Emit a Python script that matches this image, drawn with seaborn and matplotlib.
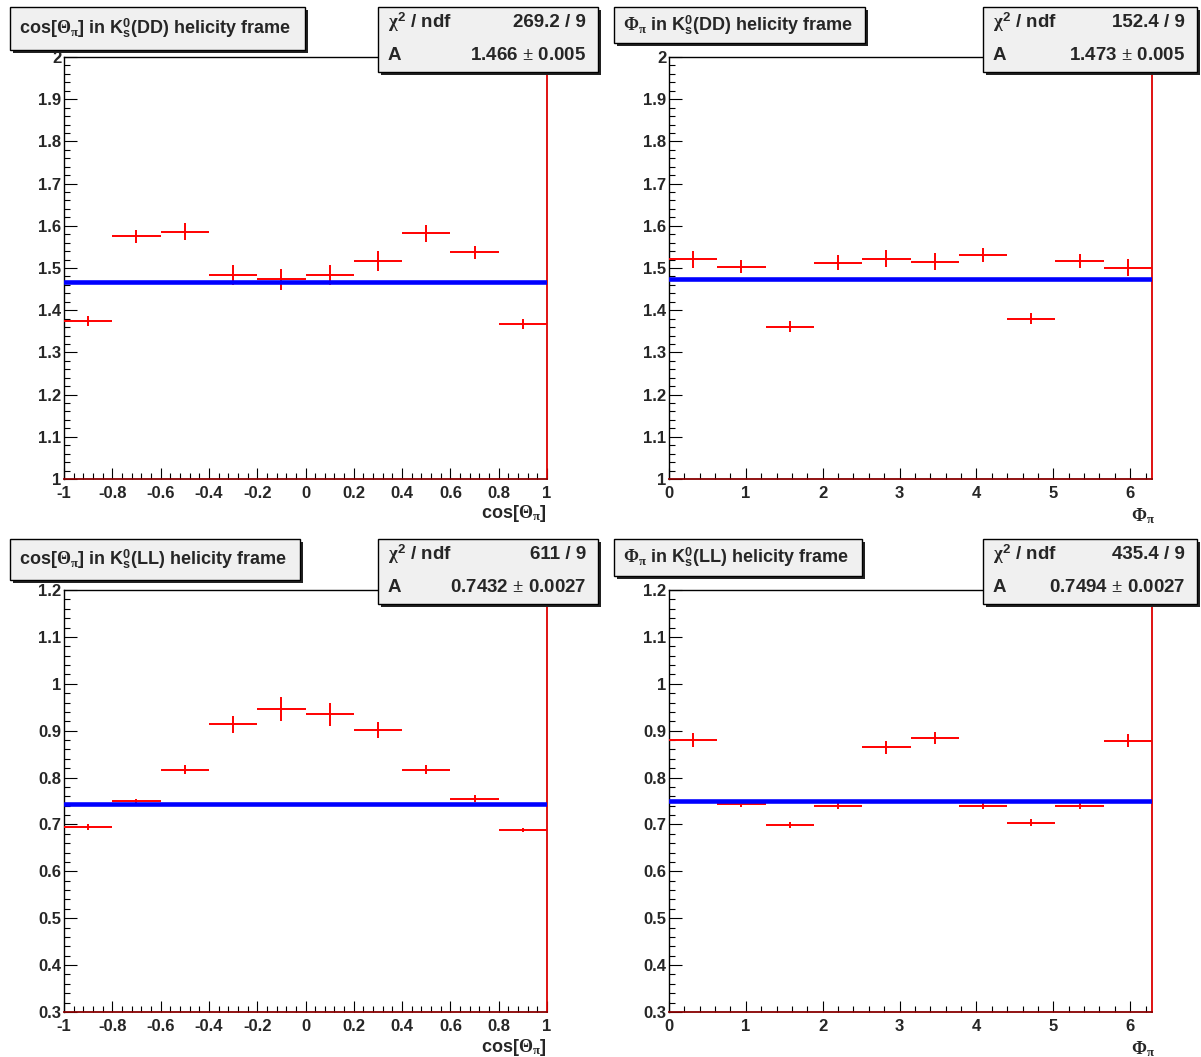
import numpy as np
import matplotlib
matplotlib.use("Agg")
import matplotlib.pyplot as plt
import seaborn as sns
import pandas as pd
from matplotlib.patches import Rectangle
from matplotlib.ticker import MultipleLocator, FuncFormatter
from matplotlib import font_manager

# ---------------- data ----------------
cos_centers = [-0.9, -0.7, -0.5, -0.3, -0.1, 0.1, 0.3, 0.5, 0.7, 0.9]
cos_halfwidth = 0.1
phi_edges = np.linspace(0, 2 * np.pi, 11)
phi_centers = list(0.5 * (phi_edges[:-1] + phi_edges[1:]))
phi_halfwidth = np.pi / 10

dd_cos_vals = [1.374, 1.575, 1.586, 1.483, 1.473, 1.483, 1.517, 1.582, 1.537, 1.368]
dd_cos_errs = [0.012, 0.015, 0.020, 0.024, 0.024, 0.024, 0.024, 0.021, 0.016, 0.012]
dd_phi_vals = [1.521, 1.503, 1.361, 1.513, 1.522, 1.515, 1.531, 1.380, 1.516, 1.501]
dd_phi_errs = [0.020, 0.015, 0.013, 0.017, 0.020, 0.020, 0.016, 0.013, 0.016, 0.020]
ll_cos_vals = [0.694, 0.749, 0.817, 0.914, 0.946, 0.935, 0.901, 0.817, 0.755, 0.688]
ll_cos_errs = [0.006, 0.005, 0.010, 0.018, 0.025, 0.024, 0.017, 0.009, 0.007, 0.005]
ll_phi_vals = [0.880, 0.744, 0.699, 0.740, 0.865, 0.884, 0.740, 0.704, 0.740, 0.879]
ll_phi_errs = [0.014, 0.006, 0.006, 0.007, 0.014, 0.013, 0.007, 0.007, 0.007, 0.014]

fit_A = [1.466, 1.473, 0.7432, 0.7494]
fit_A_text = ["1.466 $\\pm$ 0.005", "1.473 $\\pm$ 0.005", "0.7432 $\\pm$ 0.0027", "0.7494 $\\pm$ 0.0027"]
chi2_text = ["269.2 / 9", "152.4 / 9", "611 / 9", "435.4 / 9"]
titles = [
    r"cos[$\Theta_{\pi}$] in K$_{\mathbf{s}}^{\mathbf{0}}$(DD) helicity frame",
    r"$\Phi_{\pi}$ in K$_{\mathbf{s}}^{\mathbf{0}}$(DD) helicity frame",
    r"cos[$\Theta_{\pi}$] in K$_{\mathbf{s}}^{\mathbf{0}}$(LL) helicity frame",
    r"$\Phi_{\pi}$ in K$_{\mathbf{s}}^{\mathbf{0}}$(LL) helicity frame",
]
xtitles = [r"cos[$\Theta_{\pi}$]", r"$\Phi_{\pi}$", r"cos[$\Theta_{\pi}$]", r"$\Phi_{\pi}$"]

# ---------------- style ----------------
sns.set_theme(style="ticks")
names = {f.name for f in font_manager.fontManager.ttflist}
main_font = "Liberation Sans Narrow" if "Liberation Sans Narrow" in names else "Liberation Sans"
plt.rcParams["font.family"] = [main_font, "DejaVu Sans"]
plt.rcParams["font.weight"] = "bold"
plt.rcParams["mathtext.fontset"] = "custom"
plt.rcParams["mathtext.rm"] = "Liberation Serif"
plt.rcParams["mathtext.it"] = "Liberation Serif"
plt.rcParams["mathtext.bf"] = main_font + ":bold"

W, H = 1201, 1057
fig = plt.figure(figsize=(W / 100, H / 100), dpi=100)
fig.patch.set_facecolor("white")


def px_rect(x0, y0, x1, y1):
    return [x0 / W, 1 - y1 / H, (x1 - x0) / W, (y1 - y0) / H]


def box(x0, y0, x1, y1):
    sh = 3
    fig.add_artist(Rectangle(((x0 + sh) / W, 1 - (y1 + sh) / H), (x1 - x0) / W, (y1 - y0) / H,
                             transform=fig.transFigure, facecolor="#222222", edgecolor="none", zorder=10))
    fig.add_artist(Rectangle((x0 / W, 1 - y1 / H), (x1 - x0) / W, (y1 - y0) / H,
                             transform=fig.transFigure, facecolor="#f0f0f0", edgecolor="black",
                             linewidth=1.0, zorder=11))


def ftext(x, y, s, ha="left", **kw):
    fig.text(x / W, 1 - y / H, s, ha=ha, va="center", zorder=12, **kw)


panels = [
    dict(x=cos_centers, hw=cos_halfwidth, y=dd_cos_vals, e=dd_cos_errs, xlim=(-1, 1), ylim=(1, 2),
         xmaj=0.2, xmin=0.04, ax=(64, 57, 547, 479), tb=(10, 7, 305, 50), sb=(378, 7, 598, 72)),
    dict(x=phi_centers, hw=phi_halfwidth, y=dd_phi_vals, e=dd_phi_errs, xlim=(0, 2 * np.pi), ylim=(1, 2),
         xmaj=1, xmin=0.2, ax=(669, 57, 1152, 479), tb=(614, 7, 865, 43), sb=(983, 7, 1197, 72)),
    dict(x=cos_centers, hw=cos_halfwidth, y=ll_cos_vals, e=ll_cos_errs, xlim=(-1, 1), ylim=(0.3, 1.2),
         xmaj=0.2, xmin=0.04, ax=(64, 590, 547, 1012), tb=(10, 539, 300, 580), sb=(378, 539, 598, 604)),
    dict(x=phi_centers, hw=phi_halfwidth, y=ll_phi_vals, e=ll_phi_errs, xlim=(0, 2 * np.pi), ylim=(0.3, 1.2),
         xmaj=1, xmin=0.2, ax=(669, 590, 1152, 1012), tb=(614, 539, 862, 576), sb=(983, 539, 1197, 604)),
]

fmt = FuncFormatter(lambda v, p: ("%g" % round(v, 6)))

for i, p in enumerate(panels):
    ax = fig.add_axes(px_rect(*p["ax"]))
    ax.set_facecolor("white")
    ax.errorbar(p["x"], p["y"], xerr=p["hw"], yerr=p["e"], fmt="none", ecolor="#ff0000",
                elinewidth=1.4, capsize=0, zorder=3)
    df = pd.DataFrame({"x": list(p["xlim"]), "y": [fit_A[i], fit_A[i]]})
    sns.lineplot(data=df, x="x", y="y", ax=ax, color="#0000ff", linewidth=3.3, zorder=4)
    ax.set_xlim(*p["xlim"])
    ax.set_ylim(*p["ylim"])
    ax.set_xlabel("")
    ax.set_ylabel("")
    ax.xaxis.set_major_locator(MultipleLocator(p["xmaj"]))
    ax.xaxis.set_minor_locator(MultipleLocator(p["xmin"]))
    ax.yaxis.set_major_locator(MultipleLocator(0.1))
    ax.yaxis.set_minor_locator(MultipleLocator(0.02))
    ax.xaxis.set_major_formatter(fmt)
    ax.yaxis.set_major_formatter(fmt)
    ax.tick_params(axis="both", which="both", direction="in", top=False, right=False,
                   width=0.8, color="black", labelsize=12)
    ax.tick_params(axis="y", which="major", length=9, pad=2)
    ax.tick_params(axis="y", which="minor", length=4.5)
    ax.tick_params(axis="x", which="major", length=8, pad=5)
    ax.tick_params(axis="x", which="minor", length=4)
    for lbl in ax.get_xticklabels() + ax.get_yticklabels():
        lbl.set_fontweight("bold")
    for s in ["left", "top"]:
        ax.spines[s].set_color("black")
        ax.spines[s].set_linewidth(1.0)
    ax.spines["right"].set_color("#dd0000")
    ax.spines["right"].set_linewidth(1.3)
    ax.spines["bottom"].set_color("#880000")
    ax.spines["bottom"].set_linewidth(1.3)

    # title box
    x0, y0, x1, y1 = p["tb"]
    box(x0, y0, x1, y1)
    ftext(x0 + 9, (y0 + y1) / 2, titles[i], fontsize=13, fontweight="bold")

    # stats box
    x0, y0, x1, y1 = p["sb"]
    box(x0, y0, x1, y1)
    r1 = y0 + (y1 - y0) * 0.24
    r2 = y0 + (y1 - y0) * 0.74
    ftext(x0 + 10, r1, r"$\chi^{\mathbf{2}}$ / ndf", fontsize=13.5, fontweight="bold")
    ftext(x1 - 12, r1, chi2_text[i], ha="right", fontsize=13.5, fontweight="bold")
    ftext(x0 + 10, r2, "A", fontsize=13.5, fontweight="bold")
    ftext(x1 - 12, r2, fit_A_text[i], ha="right", fontsize=13.5, fontweight="bold")

    # x axis title
    axx1 = p["ax"][2]
    axy1 = p["ax"][3]
    if i % 2 == 0:
        ftext(axx1, axy1 + 35, xtitles[i], ha="right", fontsize=13, fontweight="bold")
    else:
        ftext(axx1 - 9, axy1 + 37, xtitles[i], ha="center", fontsize=13, fontweight="normal")

fig.savefig("out.png", dpi=100)
